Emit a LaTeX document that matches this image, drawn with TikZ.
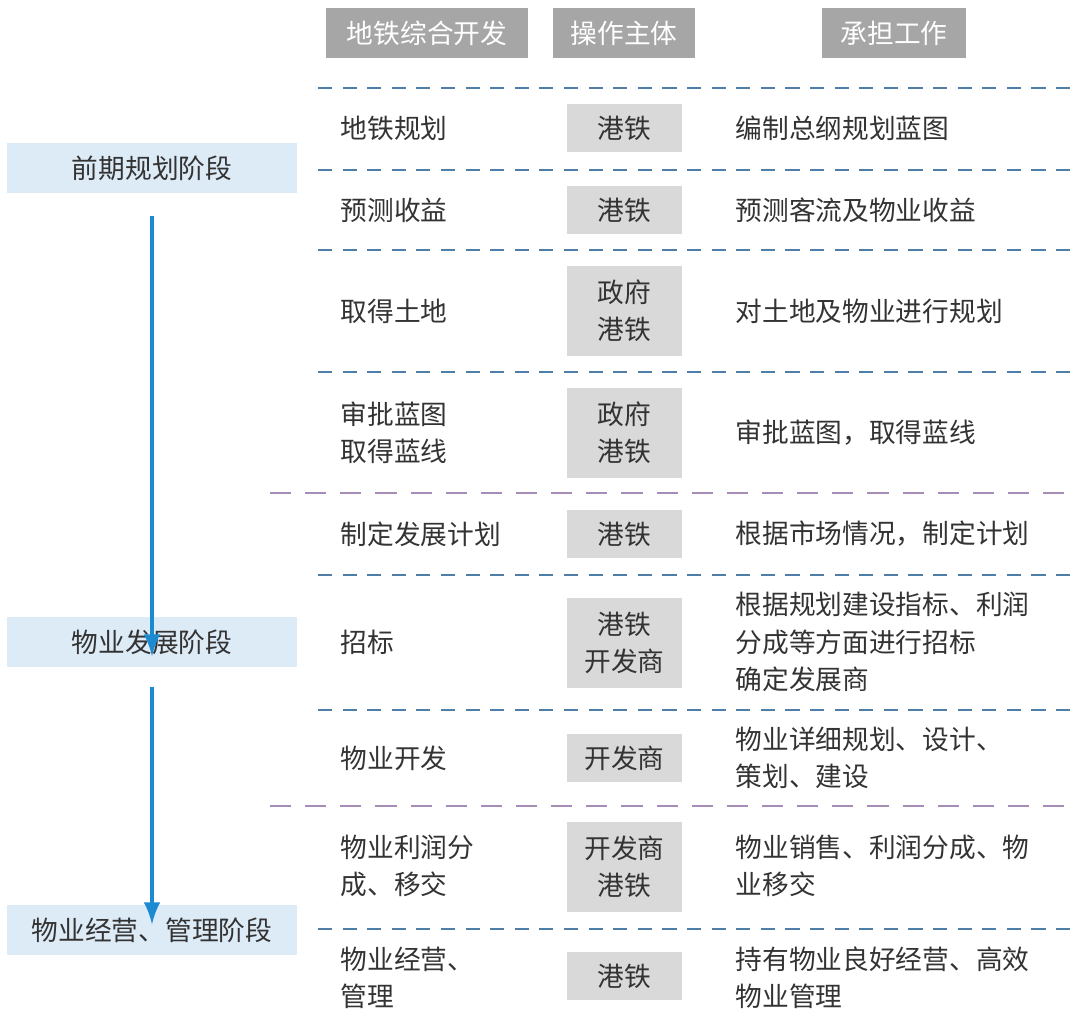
\documentclass[tikz,border=0pt]{standalone}
\usepackage{fontspec}
\setmainfont{Noto Sans CJK SC}
\usetikzlibrary{positioning}
\definecolor{hdgray}{HTML}{A6A6A6}
\definecolor{cellgray}{HTML}{D9D9D9}
\definecolor{phaseblue}{HTML}{DDEBF7}
\definecolor{arrowblue}{HTML}{1B8AD0}
\definecolor{lineblue}{HTML}{4F7FA8}
\definecolor{linepurple}{HTML}{A58DB8}
\definecolor{txt}{HTML}{333333}
\tikzstyle{header} = [rectangle, fill=hdgray, text=white, inner sep=0pt, minimum height=0.5cm, font=\fontsize{7.6}{10}\selectfont]
\tikzstyle{cell} = [rectangle, fill=cellgray, text=txt, inner sep=0pt, minimum width=1.15cm, align=center, font=\fontsize{7.6}{10.6}\selectfont]
\tikzstyle{phase} = [rectangle, fill=phaseblue, text=txt, inner sep=0pt, minimum width=2.9cm, minimum height=0.5cm, font=\fontsize{7.6}{10}\selectfont]
\tikzstyle{item} = [anchor=west, inner sep=0pt, text=txt, align=left, font=\fontsize{7.6}{10.6}\selectfont]
\tikzstyle{sepblue} = [dashed, dash pattern=on 4pt off 3pt, lineblue, line width=0.4pt]
\tikzstyle{seppurple} = [dashed, dash pattern=on 6pt off 4pt, linepurple, line width=0.6pt]
\tikzstyle{connector} = [arrowblue, line width=0.4mm, -latex]
\begin{document}
\begin{tikzpicture}
        \useasboundingbox (0,0) rectangle (10.8,-10.2);
        % headers
        \node (h1) [header, minimum width=2.02cm] at (4.27,-0.33) {地铁综合开发};
        \node (h2) [header, minimum width=1.42cm] at (6.24,-0.33) {操作主体};
        \node (h3) [header, minimum width=1.44cm] at (8.94,-0.33) {承担工作};
        % separators
        \foreach \y in {0.88,1.70,2.50,3.72,5.75,7.10,9.29}
            \draw [sepblue] (3.18,-\y) -- (10.70,-\y);
        \foreach \y in {4.93,8.06}
            \draw [seppurple] (2.70,-\y) -- (10.70,-\y);
        % left column
        \node (a1) [item] at (3.40,-1.28) {地铁规划};
        \node (a2) [item] at (3.40,-2.10) {预测收益};
        \node (a3) [item] at (3.40,-3.11) {取得土地};
        \node (a4) [item] at (3.40,-4.33) {审批蓝图\\取得蓝线};
        \node (a5) [item] at (3.40,-5.34) {制定发展计划};
        \node (a6) [item] at (3.40,-6.42) {招标};
        \node (a7) [item] at (3.40,-7.58) {物业开发};
        \node (a8) [item] at (3.40,-8.66) {物业利润分\\成、移交};
        \node (a9) [item] at (3.40,-9.78) {物业经营、\\管理};
        % middle column
        \node (b1) [cell, minimum height=0.48cm] at (6.245,-1.28) {港铁};
        \node (b2) [cell, minimum height=0.48cm] at (6.245,-2.10) {港铁};
        \node (b3) [cell, minimum height=0.90cm] at (6.245,-3.11) {政府\\港铁};
        \node (b4) [cell, minimum height=0.90cm] at (6.245,-4.33) {政府\\港铁};
        \node (b5) [cell, minimum height=0.48cm] at (6.245,-5.34) {港铁};
        \node (b6) [cell, minimum height=0.90cm] at (6.245,-6.43) {港铁\\开发商};
        \node (b7) [cell, minimum height=0.48cm] at (6.245,-7.58) {开发商};
        \node (b8) [cell, minimum height=0.90cm] at (6.245,-8.67) {开发商\\港铁};
        \node (b9) [cell, minimum height=0.48cm] at (6.245,-9.76) {港铁};
        % right column
        \node (c1) [item] at (7.35,-1.28) {编制总纲规划蓝图};
        \node (c2) [item] at (7.35,-2.10) {预测客流及物业收益};
        \node (c3) [item] at (7.35,-3.11) {对土地及物业进行规划};
        \node (c4) [item] at (7.35,-4.33) {审批蓝图，取得蓝线};
        \node (c5) [item] at (7.35,-5.34) {根据市场情况，制定计划};
        \node (c6) [item] at (7.35,-6.42) {根据规划建设指标、利润\\分成等方面进行招标\\确定发展商};
        \node (c7) [item] at (7.35,-7.58) {物业详细规划、设计、\\策划、建设};
        \node (c8) [item] at (7.35,-8.66) {物业销售、利润分成、物\\业移交};
        \node (c9) [item] at (7.35,-9.78) {持有物业良好经营、高效\\物业管理};
        % phases
        \node (p1) [phase] at (1.52,-1.68) {前期规划阶段};
        \node (p2) [phase] at (1.52,-6.42) {物业发展阶段};
        \node (p3) [phase] at (1.52,-9.30) {物业经营、管理阶段};
        \draw [connector] ([yshift=-2.2mm]p1.south) -- ([yshift=-4.0mm]p2.north);
        \draw [connector] ([yshift=-1.9mm]p2.south) -- ([yshift=-2.0mm]p3.north);
    \end{tikzpicture}
\end{document}
